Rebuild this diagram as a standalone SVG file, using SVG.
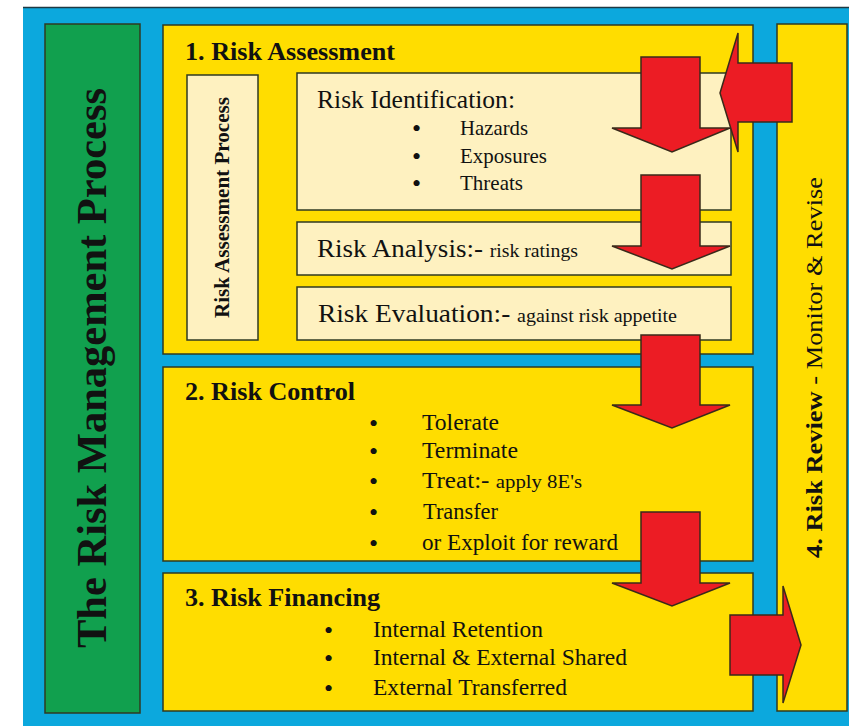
<svg xmlns="http://www.w3.org/2000/svg" width="849" height="726" viewBox="0 0 849 726">
<style>
text{font-family:"Liberation Serif","DejaVu Serif","Noto Serif",serif;fill:#111}
.b{font-weight:bold}
.bul{font-size:26px}
.box{stroke:#2f3a22;stroke-width:1.5}
.yel{fill:#FFDD00}
.crm{fill:#FEF1C0}
.arr{fill:#EC1C24;stroke:#3a2a1a;stroke-width:1.5;stroke-linejoin:miter}
</style>
<rect width="849" height="726" fill="#ffffff"/>
<g id="frame">
<rect x="23" y="7" width="826" height="719" fill="#0CA8DD"/>
<line x1="23" y1="7.5" x2="849" y2="7.5" stroke="#1d3a44" stroke-width="1.5"/>
</g>
<g id="title">
<rect class="box" x="45" y="24" width="95" height="689" fill="#11A04E"/>
<text class="b" font-size="43" transform="translate(106,648) rotate(-90)" textLength="560" lengthAdjust="spacingAndGlyphs">The Risk Management  Process</text>
</g>
<g id="assessment">
<rect class="box yel" x="163" y="25" width="590" height="329"/>
<text class="b" x="185" y="60" font-size="26" textLength="210" lengthAdjust="spacingAndGlyphs">1. Risk Assessment</text>
</g>
<g id="assessment-process">
<rect class="box crm" x="187" y="75" width="71" height="265"/>
<text class="b" font-size="21" transform="translate(229,318) rotate(-90)" textLength="221" lengthAdjust="spacingAndGlyphs">Risk Assessment Process</text>
</g>
<g id="identification">
<rect class="box crm" x="297" y="73" width="434" height="137"/>
<text x="317" y="108" font-size="26" textLength="198" lengthAdjust="spacingAndGlyphs">Risk Identification:</text>
<text class="bul" x="412" y="137">•</text>
<text x="460" y="135" font-size="21" textLength="68" lengthAdjust="spacingAndGlyphs">Hazards</text>
<text class="bul" x="412" y="165">•</text>
<text x="460" y="163" font-size="21" textLength="87" lengthAdjust="spacingAndGlyphs">Exposures</text>
<text class="bul" x="412" y="192">•</text>
<text x="460" y="190" font-size="21" textLength="63" lengthAdjust="spacingAndGlyphs">Threats</text>
</g>
<g id="analysis">
<rect class="box crm" x="297" y="222" width="434" height="53"/>
<text x="317" y="257" font-size="26" textLength="261" lengthAdjust="spacingAndGlyphs">Risk Analysis:- <tspan font-size="19">risk ratings</tspan></text>
</g>
<g id="evaluation">
<rect class="box crm" x="297" y="287" width="434" height="53"/>
<text x="318" y="322" font-size="26" textLength="359" lengthAdjust="spacingAndGlyphs">Risk Evaluation:- <tspan font-size="19">against risk appetite</tspan></text>
</g>
<g id="control">
<rect class="box yel" x="163" y="367" width="590" height="194"/>
<text class="b" x="185" y="400" font-size="26" textLength="170" lengthAdjust="spacingAndGlyphs">2. Risk Control</text>
<text class="bul" x="369" y="432">•</text>
<text x="422" y="430" font-size="23" textLength="77" lengthAdjust="spacingAndGlyphs">Tolerate</text>
<text class="bul" x="369" y="460">•</text>
<text x="422" y="458" font-size="23" textLength="96" lengthAdjust="spacingAndGlyphs">Terminate</text>
<text class="bul" x="369" y="490">•</text>
<text x="422" y="488" font-size="23" textLength="160" lengthAdjust="spacingAndGlyphs">Treat:- <tspan font-size="19">apply 8E's</tspan></text>
<text class="bul" x="369" y="521">•</text>
<text x="423" y="519" font-size="23" textLength="75" lengthAdjust="spacingAndGlyphs">Transfer</text>
<text class="bul" x="369" y="552">•</text>
<text x="422" y="550" font-size="23" textLength="196" lengthAdjust="spacingAndGlyphs">or Exploit for reward</text>
</g>
<g id="financing">
<rect class="box yel" x="163" y="573" width="590" height="138"/>
<text class="b" x="185" y="606" font-size="26" textLength="195" lengthAdjust="spacingAndGlyphs">3. Risk Financing</text>
<text class="bul" x="324" y="639">•</text>
<text x="373" y="637" font-size="23" textLength="170" lengthAdjust="spacingAndGlyphs">Internal Retention</text>
<text class="bul" x="324" y="667">•</text>
<text x="373" y="665" font-size="23" textLength="254" lengthAdjust="spacingAndGlyphs">Internal &amp; External Shared</text>
<text class="bul" x="324" y="697">•</text>
<text x="373" y="695" font-size="23" textLength="194" lengthAdjust="spacingAndGlyphs">External Transferred</text>
</g>
<g id="review">
<rect class="box yel" x="777" y="24" width="70" height="687"/>
<text font-size="24" transform="translate(822,558) rotate(-90)" textLength="381" lengthAdjust="spacingAndGlyphs"><tspan class="b">4. Risk Review</tspan> - Monitor  &amp; Revise</text>
</g>
<g id="connectors">
<polygon class="arr" points="641,57 700,57 700,128 730,128 672,152 612,128 641,128"/>
<polygon class="arr" points="641,175 700,175 700,246 730,246 672,269 612,246 641,246"/>
<polygon class="arr" points="641,335 700,335 700,405 730,405 672,428 612,405 641,405"/>
<polygon class="arr" points="641,512 700,512 700,583 730,583 672,606 612,583 641,583"/>
<polygon class="arr" points="792,63 792,122 738,122 738,152 720,93 738,33 738,63"/>
<polygon class="arr" points="730,615 783,615 783,586 801,645 783,703 783,675 730,675"/>
</g>
</svg>
